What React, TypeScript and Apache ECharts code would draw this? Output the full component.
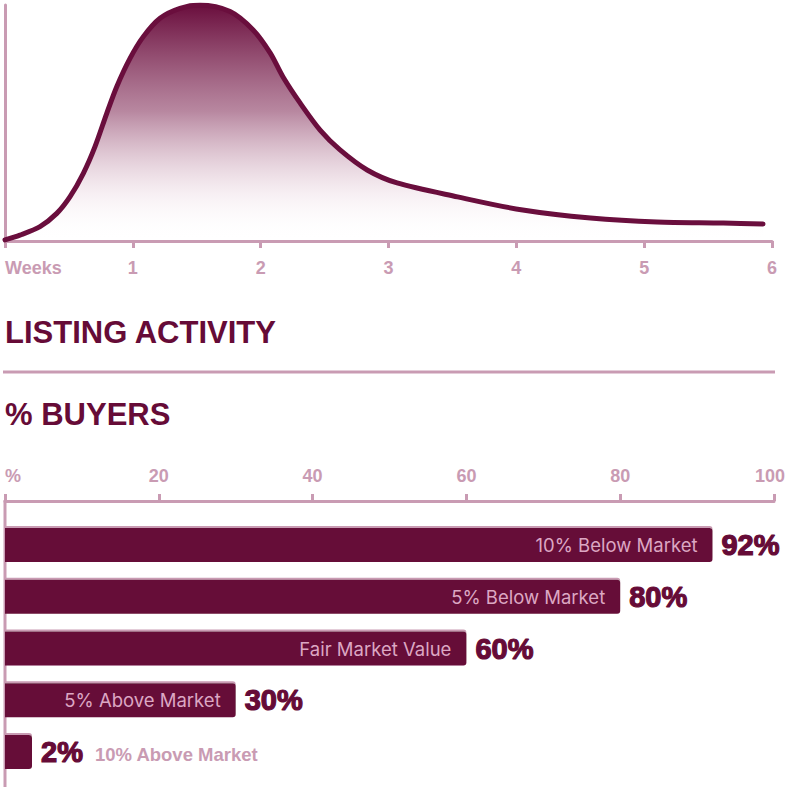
import React, { useEffect, useRef } from "react";
import * as echarts from "echarts";

// Top chart: listing activity over weeks
const weekPoints = [0, 0.117, 0.274, 0.405, 0.509, 0.613, 0.704, 0.796, 0.874, 0.978, 1.082, 1.213, 1.369, 1.526, 1.761, 1.941, 2.074, 2.175, 2.308, 2.465, 2.621, 2.833, 3.067, 3.54, 4.05, 4.58, 5.1, 5.62, 5.93];
const activityValues = [0.5, 2.5, 6.1, 11.7, 18.8, 28.7, 40, 54.1, 65.4, 77.4, 86.6, 94.4, 98.6, 100, 97.2, 89.4, 79.7, 69.5, 58.5, 47, 38.6, 30.1, 24.6, 18.7, 13.1, 9.7, 8, 7.6, 7.2];
const weekTicks = ["Weeks", "1", "2", "3", "4", "5", "6"];

// Bottom chart: % buyers
const buyerCategories = ["10% Below Market", "5% Below Market", "Fair Market Value", "5% Above Market", "10% Above Market"];
const buyerValues = [92, 80, 60, 30, 2];

const DARK = "#660b37";
const LINE = "#6a0e3d";
const PINK = "#c99bb3";
const INNER = "#dca7c3";

export default function App() {
  const ref = useRef<HTMLDivElement>(null);
  useEffect(() => {
    if (!ref.current) return;
    const chart = echarts.init(ref.current, null, { renderer: "svg" });
    const last = buyerValues.length - 1;
    const tickFont = { color: PINK, fontFamily: "Liberation Sans", fontWeight: "bold", fontSize: 18 };
    const option: any = {
      animation: false,
      grid: [
        { left: 5, right: 15, top: 5, bottom: 546, outerBoundsMode: "none", containLabel: false },
        { left: 5, right: 13, top: 519, bottom: 9, outerBoundsMode: "none", containLabel: false },
      ],
      xAxis: [
        {
          gridIndex: 0,
          type: "value",
          min: 0,
          max: 6,
          interval: 1,
          axisLine: { show: true, lineStyle: { color: PINK, width: 3 } },
          axisTick: { show: true, length: 7, lineStyle: { color: PINK, width: 3 } },
          splitLine: { show: false },
          axisLabel: {
            margin: 18,
            ...tickFont,
            alignMinLabel: "left",
            formatter: (v: number) => weekTicks[Math.round(v)] ?? String(v),
          },
        },
        {
          gridIndex: 1,
          type: "value",
          position: "top",
          offset: 18,
          min: 0,
          max: 100,
          interval: 20,
          axisLine: { show: true, lineStyle: { color: PINK, width: 3 } },
          axisTick: { show: true, length: 7, lineStyle: { color: PINK, width: 3 } },
          splitLine: { show: false },
          axisLabel: {
            margin: 16,
            ...tickFont,
            alignMinLabel: "left",
            formatter: (v: number) => (v === 0 ? "%" : v === 100 ? "{m|100}" : String(v)),
            rich: {
              m: { ...tickFont, padding: [0, 8, 0, 0] },
            },
          },
        },
      ],
      yAxis: [
        {
          gridIndex: 0,
          type: "value",
          min: 0,
          max: 100,
          axisLine: { show: true, lineStyle: { color: PINK, width: 3 } },
          axisTick: { show: false },
          axisLabel: { show: false },
          splitLine: { show: false },
        },
        {
          gridIndex: 1,
          type: "category",
          inverse: true,
          data: buyerCategories,
          axisLine: { show: false },
          axisTick: { show: false },
          axisLabel: { show: false },
          splitLine: { show: false },
        },
      ],
      graphic: [
        {
          type: "text",
          left: 5,
          top: 317,
          style: { text: "LISTING ACTIVITY", fill: DARK, font: "bold 31px 'Liberation Sans'" },
        },
        {
          type: "line",
          shape: { x1: 3, y1: 372, x2: 775, y2: 372 },
          style: { stroke: PINK, lineWidth: 3 },
        },
        {
          type: "text",
          left: 5,
          top: 399,
          style: { text: "% BUYERS", fill: DARK, font: "bold 31px 'Liberation Sans'" },
        },
        {
          type: "line",
          shape: { x1: 5, y1: 500, x2: 5, y2: 787 },
          style: { stroke: PINK, lineWidth: 3 },
        },
      ],
      series: [
        {
          type: "line",
          xAxisIndex: 0,
          yAxisIndex: 0,
          smooth: 0.3,
          symbol: "none",
          data: weekPoints.map((w, i) => [w, activityValues[i]]),
          lineStyle: { color: LINE, width: 5, cap: "round" },
          areaStyle: {
            opacity: 1,
            color: new echarts.graphic.LinearGradient(0, 0, 0, 1, [
              { offset: 0, color: "rgba(106,14,61,1)" },
              { offset: 0.45, color: "rgba(160,95,128,0.75)" },
              { offset: 0.8, color: "rgba(235,215,225,0.4)" },
              { offset: 1, color: "rgba(255,255,255,0)" },
            ]),
          },
        },
        {
          type: "bar",
          xAxisIndex: 1,
          yAxisIndex: 1,
          barWidth: 34,
          barMinHeight: 27,
          data: buyerValues,
          itemStyle: {
            color: DARK,
            borderRadius: [0, 3, 3, 0],
            shadowColor: PINK,
            shadowOffsetY: -2,
            shadowBlur: 0,
          },
          label: {
            show: true,
            position: "insideRight",
            distance: 15,
            color: INNER,
            fontFamily: "Inter",
            fontSize: 18.5,
            formatter: (p: any) => (p.value >= 10 ? buyerCategories[p.dataIndex] : ""),
          },
        },
        {
          type: "bar",
          xAxisIndex: 1,
          yAxisIndex: 1,
          barWidth: 34,
          barGap: "-100%",
          barMinHeight: 27,
          silent: true,
          data: buyerValues,
          itemStyle: { color: "rgba(0,0,0,0)" },
          label: {
            show: true,
            position: "right",
            distance: 9,
            formatter: (p: any) =>
              p.dataIndex === last || p.value < 10
                ? `{v|${p.value}%}{n|${buyerCategories[p.dataIndex]}}`
                : `{v|${p.value}%}`,
            rich: {
              v: {
                color: DARK,
                fontFamily: "Liberation Sans",
                fontWeight: "bold",
                fontSize: 29,
                textBorderColor: DARK,
                textBorderWidth: 1.2,
              },
              n: {
                color: PINK,
                fontFamily: "Liberation Sans",
                fontWeight: "bold",
                fontSize: 18.5,
                padding: [4, 0, 0, 12],
              },
            },
          },
        },
      ],
    };
    chart.setOption(option);
    return () => chart.dispose();
  }, []);
  return (
    <div
      ref={ref}
      style={{ position: "fixed", left: 0, top: 0, width: 787, height: 787, background: "#fff" }}
    />
  );
}
